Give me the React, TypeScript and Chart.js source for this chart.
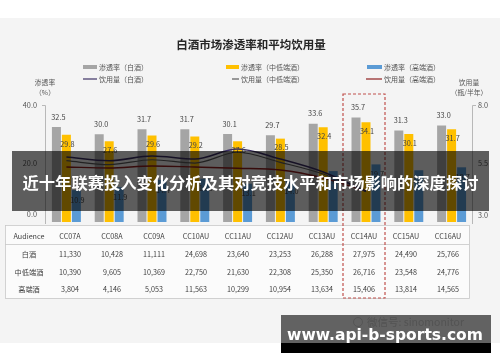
import React, { useEffect, useRef } from "react";
import { Chart, registerables } from "chart.js";
Chart.register(...registerables);

const categories = ["CC07A", "CC08A", "CC09A", "CC10AU", "CC11AU", "CC12AU", "CC13AU", "CC14AU", "CC15AU", "CC16AU"];
const penBaijiu = [32.5, 30.0, 31.7, 31.7, 30.1, 29.7, 33.6, 35.7, 31.3, 33.0];
const penMidLow = [29.8, 27.6, 29.6, 29.2, 27.6, 28.5, 32.4, 34.1, 30.1, 31.7];
const penHigh = [10.9, 11.9, 14.4, 14.8, 13.1, 14.0, 17.4, 19.7, 17.7, 18.7];
const volBaijiu = [5.78, 5.62, 5.82, 5.69, 6.12, 5.69, 5.14, 4.32, null, null];
const volMidLow = [5.62, 5.45, 5.66, 5.52, 5.98, 5.55, 5.05, 4.3, null, null];
const volHigh = [5.35, 5.31, 5.39, 5.35, 5.3, 5.22, 4.88, 4.32, null, null];
const audBaijiu = ["11,330", "10,428", "11,111", "24,698", "23,640", "23,253", "26,288", "27,975", "24,490", "25,766"];
const audMidLow = ["10,390", "9,605", "10,369", "22,750", "21,630", "22,308", "25,350", "26,716", "23,548", "24,776"];
const audHigh = ["3,804", "4,146", "5,053", "11,563", "10,299", "10,954", "13,634", "15,406", "13,814", "14,565"];
const rowLabels = ["白酒", "中低端酒", "高端酒"];
const leftTicks = [0, 20, 40];
const rightTicks = [3.0, 5.5, 8.0];
const title = "白酒市场渗透率和平均饮用量";
const bannerText = "近十年联赛投入变化分析及其对竞技水平和市场影响的深度探讨";
const siteText = "www.api-b-sports.com";
const highlightIndex = 7;

const FONT = "'Noto Sans CJK SC', 'Noto Sans', sans-serif";
const GREY = "#a5a5a5";
const YELLOW = "#ffc000";
const BLUE = "#5b9bd5";
const NAVY = "#3b2f63";
const DARKGREY = "#5a5a5a";
const DARKRED = "#8e1d1d";

const decorPlugin = {
  id: "decor",
  beforeDraw(chart: any) {
    const ctx = chart.ctx;
    ctx.save();
    ctx.fillStyle = "#ffffff";
    ctx.fillRect(0, 0, 500, 362);
    ctx.fillStyle = "#f4f4f4";
    ctx.fillRect(0, 18, 500, 325);
    ctx.restore();
  },
  afterDraw(chart: any) {
    const ctx = chart.ctx;
    const y = chart.scales.y;
    const y2 = chart.scales.y2;
    const x = chart.scales.x;
    const area = chart.chartArea;
    ctx.save();
    ctx.textAlign = "center";
    ctx.textBaseline = "middle";

    // title
    ctx.fillStyle = "#262626";
    ctx.font = `bold 11.5px ${FONT}`;
    ctx.fillText(title, 251, 45);

    // legend
    ctx.font = `7px ${FONT}`;
    ctx.textAlign = "left";
    const leg = [
      { x: 83, w: 14, c: GREY, t: "渗透率（白酒）", kind: "box", row: 0 },
      { x: 226, w: 13, c: YELLOW, t: "渗透率（中低端酒）", kind: "box", row: 0 },
      { x: 367, w: 15, c: BLUE, t: "渗透率（高端酒）", kind: "box", row: 0 },
      { x: 83, w: 14, c: NAVY, t: "饮用量（白酒）", kind: "line", row: 1 },
      { x: 232, w: 7, c: DARKGREY, t: "饮用量（中低端酒）", kind: "line", row: 1 },
      { x: 366, w: 16, c: DARKRED, t: "饮用量（高端酒）", kind: "line", row: 1 },
    ];
    leg.forEach((l) => {
      const ly = l.row === 0 ? 67 : 79;
      if (l.kind === "box") {
        ctx.fillStyle = l.c;
        ctx.fillRect(l.x, ly - 2, l.w, 4);
      } else {
        ctx.strokeStyle = l.c;
        ctx.lineWidth = 1.2;
        ctx.beginPath();
        ctx.moveTo(l.x, ly);
        ctx.lineTo(l.x + l.w, ly);
        ctx.stroke();
      }
      ctx.fillStyle = "#555";
      ctx.fillText(l.t, l.x + l.w + 2, ly);
    });

    // axis titles
    ctx.textAlign = "center";
    ctx.fillStyle = "#555";
    ctx.font = `6.8px ${FONT}`;
    ctx.fillText("渗透率", 45, 82);
    ctx.fillText("（%）", 45, 92);
    ctx.fillText("饮用量", 469, 82);
    ctx.fillText("（瓶/半年）", 469, 92);

    // axis lines
    ctx.strokeStyle = "#b8b8b8";
    ctx.lineWidth = 1;
    ctx.beginPath();
    ctx.moveTo(area.left - 3, area.top + 0.5);
    ctx.lineTo(area.left + 0.5, area.top + 0.5);
    ctx.lineTo(area.left + 0.5, area.bottom + 2);
    ctx.moveTo(area.right + 3, area.top + 0.5);
    ctx.lineTo(area.right - 0.5, area.top + 0.5);
    ctx.lineTo(area.right - 0.5, area.bottom + 2);
    ctx.stroke();

    // tick labels
    ctx.font = `7.3px ${FONT}`;
    ctx.fillStyle = "#555";
    ctx.textAlign = "right";
    leftTicks.forEach((t) => {
      const py = Math.min(y.getPixelForValue(t), 214);
      ctx.fillText(t.toFixed(1), 37, py);
    });
    ctx.textAlign = "left";
    rightTicks.forEach((t) => {
      const py = Math.min(y2.getPixelForValue(t), 215);
      ctx.fillText(t.toFixed(1), 478, py);
    });

    // data labels
    ctx.textAlign = "center";
    ctx.font = `7.3px ${FONT}`;
    ctx.fillStyle = "#444";
    const m0 = chart.getDatasetMeta(0).data;
    const m1 = chart.getDatasetMeta(1).data;
    const m2 = chart.getDatasetMeta(2).data;
    penBaijiu.forEach((v, i) => ctx.fillText(v.toFixed(1), m0[i].x + 2, m0[i].y - 10));
    penMidLow.forEach((v, i) => ctx.fillText(v.toFixed(1), m1[i].x + 1, m1[i].y + 9));
    penHigh.forEach((v, i) => ctx.fillText(v.toFixed(1), m2[i].x + 1, m2[i].y + 10));

    // table
    const tL = 5, tR = 469, tT = 225, tB = 298;
    ctx.fillStyle = "#fbfbfb";
    ctx.fillRect(tL, tT, tR - tL, tB - tT);
    ctx.strokeStyle = "#c8c8c8";
    ctx.lineWidth = 0.8;
    ctx.strokeRect(tL + 0.5, tT + 0.5, tR - tL, tB - tT);
    ctx.beginPath();
    ctx.moveTo(tL, 244.5);
    ctx.lineTo(tR, 244.5);
    ctx.stroke();
    const colX = (i: number) => 70 + i * 42.0;
    ctx.fillStyle = "#404040";
    ctx.font = `7.2px ${FONT}`;
    ctx.fillText("Audience", 29, 236);
    categories.forEach((c, i) => ctx.fillText(c, colX(i), 236));
    const rows = [audBaijiu, audMidLow, audHigh];
    const rowY = [254, 272, 289];
    rows.forEach((r, ri) => {
      ctx.fillText(rowLabels[ri], 29, rowY[ri]);
      r.forEach((v, i) => ctx.fillText(v, colX(i), rowY[ri]));
    });

    // highlight box
    const hx = x.getPixelForValue(highlightIndex);
    ctx.strokeStyle = "#c0504d";
    ctx.lineWidth = 1.2;
    ctx.setLineDash([3, 2]);
    ctx.strokeRect(hx - 23, 94, 42, 204);
    ctx.setLineDash([]);

    // watermark
    ctx.fillStyle = "#cfcfcf";
    ctx.font = `10.5px ${FONT}`;
    ctx.textAlign = "left";
    ctx.fillText("微信号: sinomonitor", 367, 322);
    ctx.strokeStyle = "#d4d4d4";
    ctx.lineWidth = 1;
    ctx.beginPath();
    ctx.arc(358, 322, 4.5, 0, Math.PI * 2);
    ctx.stroke();

    // banner overlay
    ctx.fillStyle = "rgba(0,0,0,0.62)";
    ctx.fillRect(12, 151, 477, 60);
    ctx.fillStyle = "#ffffff";
    ctx.textAlign = "center";
    ctx.font = `bold 16.3px ${FONT}`;
    ctx.fillText(bannerText, 250.5, 183);

    // bottom banner
    ctx.fillStyle = "rgba(0,0,0,0.6)";
    ctx.fillRect(281, 315, 210, 28);
    ctx.fillStyle = "#000";
    ctx.fillRect(281, 343, 210, 10);
    ctx.fillStyle = "#ffffff";
    ctx.font = `bold 15.5px 'DejaVu Sans', sans-serif`;
    ctx.fillText(siteText, 385, 336);
    ctx.restore();
  },
};

export default function App() {
  const ref = useRef<HTMLCanvasElement>(null);
  useEffect(() => {
    if (!ref.current) return;
    const barCommon = { categoryPercentage: 0.7, barPercentage: 0.9, yAxisID: "y", order: 2 };
    const lineCommon = {
      type: "line" as const,
      yAxisID: "y2",
      pointRadius: 0,
      tension: 0.4,
      cubicInterpolationMode: "monotone" as const,
      fill: false,
      order: 0,
      spanGaps: false,
    };
    const chart = new Chart(ref.current, {
      type: "bar",
      data: {
        labels: categories,
        datasets: [
          { ...barCommon, label: "渗透率（白酒）", data: penBaijiu, backgroundColor: GREY },
          { ...barCommon, label: "渗透率（中低端酒）", data: penMidLow, backgroundColor: YELLOW },
          { ...barCommon, label: "渗透率（高端酒）", data: penHigh, backgroundColor: BLUE },
          { ...lineCommon, label: "饮用量（白酒）", data: volBaijiu, borderColor: NAVY, borderWidth: 1.6 },
          { ...lineCommon, label: "饮用量（中低端酒）", data: volMidLow, borderColor: DARKGREY, borderWidth: 1.2 },
          { ...lineCommon, label: "饮用量（高端酒）", data: volHigh, borderColor: DARKRED, borderWidth: 1.4 },
        ] as any,
      },
      options: {
        animation: false,
        responsive: false,
        devicePixelRatio: 1,
        layout: { padding: { left: 45, right: 27, top: 105, bottom: 140 } },
        plugins: { legend: { display: false }, tooltip: { enabled: false } },
        scales: {
          x: { display: false, offset: true },
          y: { display: false, min: 0, max: 40 },
          y2: { display: false, min: 3, max: 8, position: "right" },
        },
      },
      plugins: [decorPlugin],
    });
    return () => chart.destroy();
  }, []);
  return (
    <div style={{ position: "fixed", left: 0, top: 0, width: 500, height: 362 }}>
      <canvas ref={ref} width={500} height={362} style={{ display: "block" }} />
    </div>
  );
}
